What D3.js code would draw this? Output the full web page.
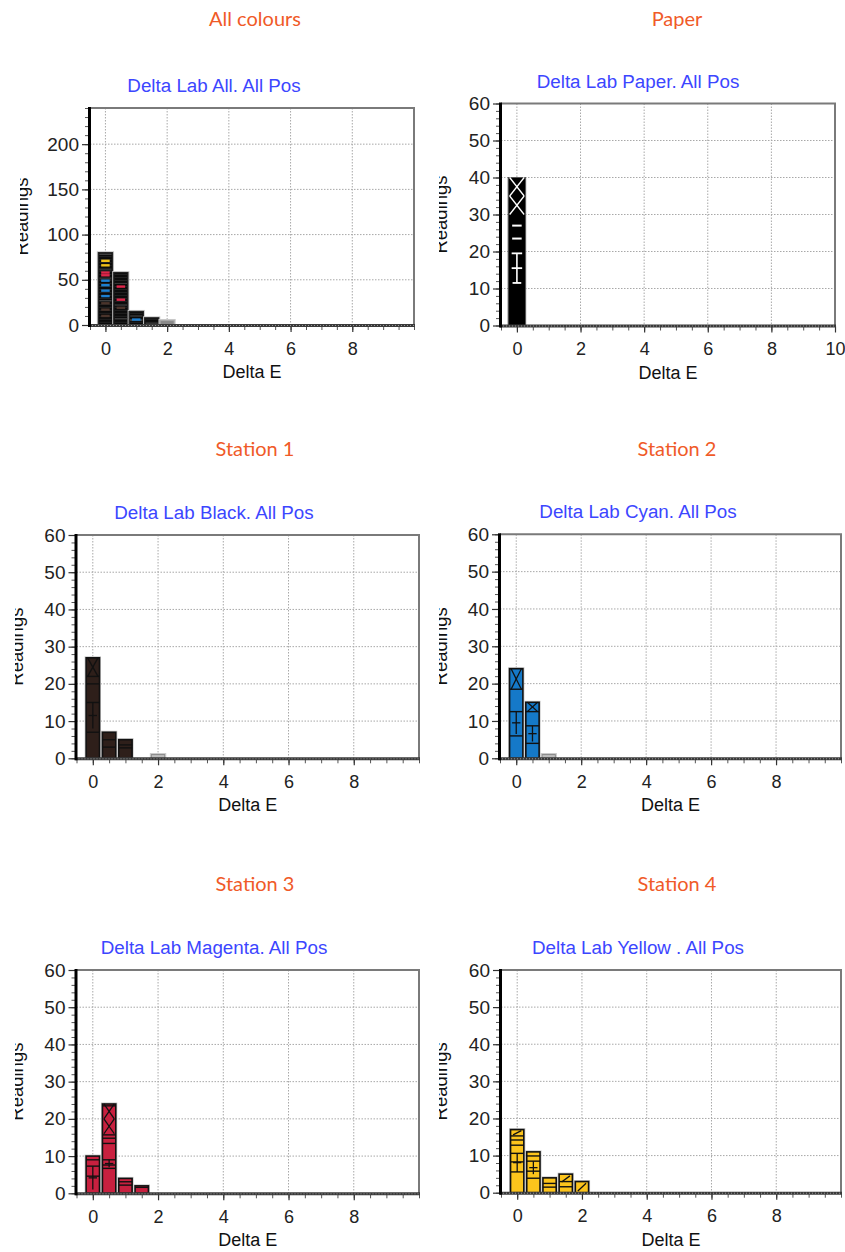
<!DOCTYPE html>
<html><head><meta charset="utf-8">
<script src="https://cdn.jsdelivr.net/npm/d3@7"></script>
<style>body{margin:0;background:#fff}svg{display:block}</style>
</head><body>
<svg id="c" width="845" height="1252"></svg>
<script>
// ---------- data ----------
const binCenters = [0, 0.5, 1, 1.5, 2];
const allCounts = [80, 58, 15, 8, 5];
const paperBins = [0];
const paperCounts = [40];
const blackCounts = [27, 7, 5, 0, 1];
const cyanCounts = [24, 15, 1, 0, 0];
const magentaCounts = [10, 24, 4, 2, 0];
const yellowCounts = [17, 11, 4, 5, 3];
// internal sub-group boundaries inside each bar (Readings)
const blackSplits = [[7, 15, 20, 22], [3, 5], [2.8, 3.6], [], []];
const cyanSplits = [[6, 12.5, 18.5], [4, 8.7, 12.5], [], [], []];
const magentaSplits = [[4.6, 7.3, 9], [6.7, 7.6, 9, 13.4, 14.8, 15.7, 23.5], [2.2, 3.1], [1.6], []];
const yellowSplits = [[5.6, 8.3, 10.6, 12.8, 14.2, 15.3], [3.9, 5.8, 8.5, 9.9], [1.5, 2.5], [1.6, 3], []];
const paperSplits = [[23.5, 27]];
// coloured stripes visible inside the "All" bars: [bin index, station, Readings]
const allStripes = [
  [0, "black", 10], [0, "black", 17], [0, "black", 24],
  [0, "cyan", 32], [0, "cyan", 38], [0, "cyan", 44], [0, "cyan", 49],
  [0, "magenta", 55], [0, "magenta", 58],
  [0, "yellow", 66], [0, "yellow", 71],
  [1, "black", 19], [1, "magenta", 28], [1, "magenta", 42.5],
  [2, "cyan", 6]];
// markers: [bin index, type, low, high]
const blackMarks = [[0, "x", 22, 27], [0, "+", 8, 15]];
const cyanMarks = [[0, "x", 18.5, 24], [0, "+", 6.5, 12.5], [1, "x", 12.5, 15], [1, "+", 4.5, 8.7]];
const magentaMarks = [[0, "+", 1, 7.3], [1, "x", 16, 20], [1, "x", 20, 24], [1, "+", 7, 9]];
const yellowMarks = [[0, "+", 5.6, 10.6], [0, "/", 15.3, 17], [1, "+", 5, 8.5], [3, "/", 2.6, 4.8], [4, "/", 0.2, 2.8]];
const paperMarks = [[0, "x", 30, 35], [0, "x", 35, 40], [0, "ladder", 11.5, 19.5]];
const xTicksMain = [0, 2, 4, 6, 8];
const xTicksPaper = [0, 2, 4, 6, 8, 10];
const yTicksAll = [0, 50, 100, 150, 200];
const yTicksStation = [0, 10, 20, 30, 40, 50, 60];
const headers = ["All colours", "Paper", "Station 1", "Station 2", "Station 3", "Station 4"];
const titles = ["Delta Lab All. All Pos", "Delta Lab Paper. All Pos", "Delta Lab Black. All Pos",
  "Delta Lab Cyan. All Pos", "Delta Lab Magenta. All Pos", "Delta Lab Yellow . All Pos"];
const xLabel = "Delta E";
const yLabel = "Readings";

// ---------- layout / style ----------
const svg = d3.select("#c");
const FONT = "'Liberation Sans', Arial, sans-serif";
const stationColors = {black: "#2e1f1a", cyan: "#1579c8", magenta: "#c8203f", yellow: "#fcc41c"};
const stripeColors = {black: "#4a342b", cyan: "#1d7fd0", magenta: "#e0264a", yellow: "#f2c018"};

const panels = [
  {L: 90, R: 414, T: 108, B: 325, ymax: 240, yTicks: yTicksAll, yMinor: 10, xTicks: xTicksMain,
   hx: 255, hy: 26, tx: 214, clipX: 20, labX: 27.5, kind: "all", bw: 0.46},
  {L: 501, R: 835, T: 103.5, B: 325.5, ymax: 60, yTicks: yTicksStation, yMinor: 2, xTicks: xTicksPaper,
   hx: 677, hy: 26, tx: 638, clipX: 439, labX: 446.5, kind: "paper", bw: 0.55},
  {L: 76.5, R: 419, T: 535, B: 758.3, ymax: 60, yTicks: yTicksStation, yMinor: 2, xTicks: xTicksMain,
   hx: 255, hy: 456, tx: 214, clipX: 15, labX: 22.5, kind: "station", bw: 0.41,
   counts: blackCounts, splits: blackSplits, marks: blackMarks, color: stationColors.black},
  {L: 500, R: 841, T: 534.3, B: 758.3, ymax: 60, yTicks: yTicksStation, yMinor: 2, xTicks: xTicksMain,
   hx: 677, hy: 456, tx: 638, clipX: 439, labX: 446.5, kind: "station", bw: 0.41,
   counts: cyanCounts, splits: cyanSplits, marks: cyanMarks, color: stationColors.cyan},
  {L: 76.5, R: 419, T: 970, B: 1193.3, ymax: 60, yTicks: yTicksStation, yMinor: 2, xTicks: xTicksMain,
   hx: 255, hy: 891, tx: 214, clipX: 15, labX: 22.5, kind: "station", bw: 0.41,
   counts: magentaCounts, splits: magentaSplits, marks: magentaMarks, color: stationColors.magenta},
  {L: 501, R: 841, T: 970, B: 1192.7, ymax: 60, yTicks: yTicksStation, yMinor: 2, xTicks: xTicksMain,
   hx: 677, hy: 891, tx: 638, clipX: 439, labX: 446.5, kind: "station", bw: 0.41,
   counts: yellowCounts, splits: yellowSplits, marks: yellowMarks, color: stationColors.yellow}
];

function drawMarks(g, x, y, centers, bw, marks, stroke) {
  marks.forEach(([i, type, lo, hi]) => {
    const cx = x(centers[i]);
    const x0 = x(centers[i] - bw / 2) + 1.5, x1 = x(centers[i] + bw / 2) - 1.5;
    const y0 = y(lo), y1 = y(hi);
    const ln = (a, b, c, d, w) => g.append("line").attr("x1", a).attr("y1", b).attr("x2", c).attr("y2", d)
      .attr("stroke", stroke).attr("stroke-width", w || 1.3);
    if (type === "x") {
      ln(x0, y0, x1, y1); ln(x0, y1, x1, y0);
    } else if (type === "+") {
      const ym = y((lo + hi) / 2);
      ln(cx, y0, cx, y1); ln(x0 + 1, ym, x1 - 1, ym);
    } else if (type === "/") {
      ln(x0 + 1, y0 - 1, x1 - 1, y1 + 1);
    } else if (type === "ladder") {
      const ym = y((lo + hi) / 2);
      const w = (x1 - x0);
      ln(cx, y0, cx, y1, 1.6);
      ln(x0 + 2, y1, x1 - 2, y1, 1.8);
      ln(x0 + 2, ym, x1 - 2, ym, 1.8);
      ln(cx - w * 0.3, y0, cx + w * 0.3, y0, 1.8);
    }
  });
}

panels.forEach((p, k) => {
  const g = svg.append("g");
  const x = d3.scaleLinear().domain([-0.5, 10]).range([p.L, p.R]);
  const y = d3.scaleLinear().domain([0, p.ymax]).range([p.B, p.T]);

  // header
  g.append("text").attr("x", p.hx).attr("y", p.hy).attr("text-anchor", "middle")
    .attr("font-family", "Lato, 'Open Sans', sans-serif").attr("font-weight", 400)
    .attr("font-size", 20).attr("fill", "#f05a28").text(headers[k]);
  // chart title
  g.append("text").attr("x", p.tx).attr("y", p.T - 16).attr("text-anchor", "middle")
    .attr("font-family", FONT).attr("font-size", 18.8).attr("fill", "#3c46ff").text(titles[k]);

  // background plot
  g.append("rect").attr("x", p.L).attr("y", p.T).attr("width", p.R - p.L).attr("height", p.B - p.T).attr("fill", "#fff");

  // grid
  const grid = g.append("g").attr("stroke", "#a8a8a8").attr("stroke-width", 1).attr("stroke-dasharray", "1.5,1.5");
  p.xTicks.forEach(t => grid.append("line").attr("x1", x(t)).attr("x2", x(t)).attr("y1", p.T).attr("y2", p.B));
  p.yTicks.filter(t => t > 0 && t < p.ymax).forEach(t =>
    grid.append("line").attr("x1", p.L).attr("x2", p.R).attr("y1", y(t)).attr("y2", y(t)));

  // bars
  const bars = g.append("g");
  if (p.kind === "all") {
    const stations = [blackCounts, cyanCounts, magentaCounts, yellowCounts];
    binCenters.forEach((c, i) => {
      const x0 = x(c - p.bw / 2), x1 = x(c + p.bw / 2);
      const isSmall = allCounts[i] <= 5;
      bars.append("rect").attr("x", x0 - 1).attr("y", y(allCounts[i]) - 1).attr("width", x1 - x0 + 2)
        .attr("height", y(0) - y(allCounts[i]) + 1).attr("fill", "none").attr("stroke", "#ccc").attr("stroke-width", 1);
      bars.append("rect").attr("x", x0).attr("y", y(allCounts[i])).attr("width", x1 - x0)
        .attr("height", y(0) - y(allCounts[i]))
        .attr("fill", isSmall ? "#8a8a8a" : "#0b0b0b").attr("stroke", isSmall ? "#aaa" : "#222").attr("stroke-width", 1.2);
      if (!isSmall) {
        let base = 0;
        stations.forEach(cnts => {
          base += cnts[i];
          if (base > 0 && base < allCounts[i] - 1)
            bars.append("line").attr("x1", x0 + 1).attr("x2", x1 - 1).attr("y1", y(base)).attr("y2", y(base))
              .attr("stroke", "#555").attr("stroke-width", 0.8);
        });
        d3.range(3, allCounts[i] - 1, 3.3).forEach(v =>
          bars.append("line").attr("x1", x0 + 1).attr("x2", x1 - 1).attr("y1", y(v)).attr("y2", y(v))
            .attr("stroke", "#333").attr("stroke-width", 0.6));
      }
    });
    allStripes.forEach(([i, st, v]) => {
      const c = binCenters[i];
      const x0 = x(c - p.bw / 2), x1 = x(c + p.bw / 2);
      const w = x1 - x0;
      bars.append("line").attr("x1", x0 + w * 0.2).attr("x2", x1 - w * 0.2)
        .attr("y1", y(v)).attr("y2", y(v)).attr("stroke", stripeColors[st]).attr("stroke-width", 2.4);
    });
  } else if (p.kind === "paper") {
    paperBins.forEach((c, i) => {
      const x0 = x(c - p.bw / 2), x1 = x(c + p.bw / 2);
      bars.append("rect").attr("x", x0).attr("y", y(paperCounts[i])).attr("width", x1 - x0)
        .attr("height", y(0) - y(paperCounts[i])).attr("fill", "#000").attr("stroke", "#555").attr("stroke-width", 1);
      paperSplits[i].forEach(s => bars.append("line").attr("x1", x0 + 4).attr("x2", x1 - 4)
        .attr("y1", y(s)).attr("y2", y(s)).attr("stroke", "#fff").attr("stroke-width", 2));
    });
    drawMarks(bars, x, y, paperBins, p.bw, paperMarks, "#fff");
  } else {
    binCenters.forEach((c, i) => {
      const v = p.counts[i];
      if (v <= 0) return;
      const x0 = x(c - p.bw / 2), x1 = x(c + p.bw / 2);
      const isSmall = v <= 1;
      bars.append("rect").attr("x", x0 - 1).attr("y", y(v) - 1).attr("width", x1 - x0 + 2)
        .attr("height", y(0) - y(v) + 1).attr("fill", "none").attr("stroke", "#c8c8c8").attr("stroke-width", 1);
      bars.append("rect").attr("x", x0).attr("y", y(v)).attr("width", x1 - x0)
        .attr("height", y(0) - y(v))
        .attr("fill", isSmall ? "#bdbdbd" : p.color).attr("stroke", isSmall ? "#888" : "#111")
        .attr("stroke-width", isSmall ? 1 : 1.6);
      p.splits[i].forEach(s => bars.append("line").attr("x1", x0).attr("x2", x1)
        .attr("y1", y(s)).attr("y2", y(s)).attr("stroke", "#111").attr("stroke-width", 1.4));
    });
    drawMarks(bars, x, y, binCenters, p.bw, p.marks, "#111");
  }

  // frame: top & right gray
  g.append("path").attr("d", `M${p.L},${p.T}H${p.R}V${p.B}`).attr("fill", "none")
    .attr("stroke", "#7a7a7a").attr("stroke-width", 2);

  // y axis
  const yMinorVals = d3.range(0, p.ymax + 0.001, p.yMinor);
  const yMinorAxis = g.append("g").attr("transform", `translate(${p.L - 1},0)`)
    .call(d3.axisLeft(y).tickValues(yMinorVals).tickSize(4).tickFormat(""));
  yMinorAxis.select(".domain").remove();
  yMinorAxis.selectAll("line").attr("stroke", "#555");
  const yAxis = g.append("g").attr("transform", `translate(${p.L - 1},0)`)
    .call(d3.axisLeft(y).tickValues(p.yTicks).tickSize(7).tickPadding(3));
  yAxis.select(".domain").remove();
  yAxis.selectAll("line").attr("stroke", "#333").attr("stroke-width", 1.2);
  yAxis.selectAll("text").attr("font-family", FONT).attr("font-size", 19).attr("fill", "#222");

  // x axis
  const xMinorVals = d3.range(-0.5, 10.001, 0.5).filter(v => x(v) <= p.R);
  const xMinorAxis = g.append("g").attr("transform", `translate(0,${p.B + 1})`)
    .call(d3.axisBottom(x).tickValues(xMinorVals).tickSize(4).tickFormat(""));
  xMinorAxis.select(".domain").remove();
  xMinorAxis.selectAll("line").attr("stroke", "#555");
  const xAxis = g.append("g").attr("transform", `translate(0,${p.B + 1})`)
    .call(d3.axisBottom(x).tickValues(p.xTicks).tickSize(6).tickPadding(10));
  xAxis.select(".domain").remove();
  xAxis.selectAll("line").attr("stroke", "#333").attr("stroke-width", 1.2);
  xAxis.selectAll("text").attr("font-family", FONT).attr("font-size", 18).attr("fill", "#222");

  // axis lines
  g.append("line").attr("x1", p.L - 1).attr("x2", p.R + 1).attr("y1", p.B + 0.5).attr("y2", p.B + 0.5)
    .attr("stroke", "#3a3a3a").attr("stroke-width", 3);
  g.append("line").attr("x1", p.L - 1).attr("x2", p.R).attr("y1", p.B + 0.5).attr("y2", p.B + 0.5)
    .attr("stroke", "#999").attr("stroke-width", 1).attr("stroke-dasharray", "1,2");
  g.append("line").attr("x1", p.L - 0.5).attr("x2", p.L - 0.5).attr("y1", p.T - 1).attr("y2", p.B + 2)
    .attr("stroke", "#000").attr("stroke-width", 3);

  // x label
  g.append("text").attr("x", (p.L + p.R) / 2).attr("y", p.B + 53).attr("text-anchor", "middle")
    .attr("font-family", FONT).attr("font-size", 18).attr("fill", "#111").text(xLabel);

  // y label (clipped on the left like the source)
  const cid = "clip" + k;
  svg.append("clipPath").attr("id", cid).append("rect")
    .attr("x", p.clipX).attr("y", p.T).attr("width", 60).attr("height", p.B - p.T);
  g.append("g").attr("clip-path", `url(#${cid})`)
    .append("text")
    .attr("transform", `translate(${p.labX},${(p.T + p.B) / 2}) rotate(-90)`)
    .attr("text-anchor", "middle").attr("font-family", FONT).attr("font-size", 18.5).attr("fill", "#111")
    .text(yLabel);
});
</script>
</body></html>
